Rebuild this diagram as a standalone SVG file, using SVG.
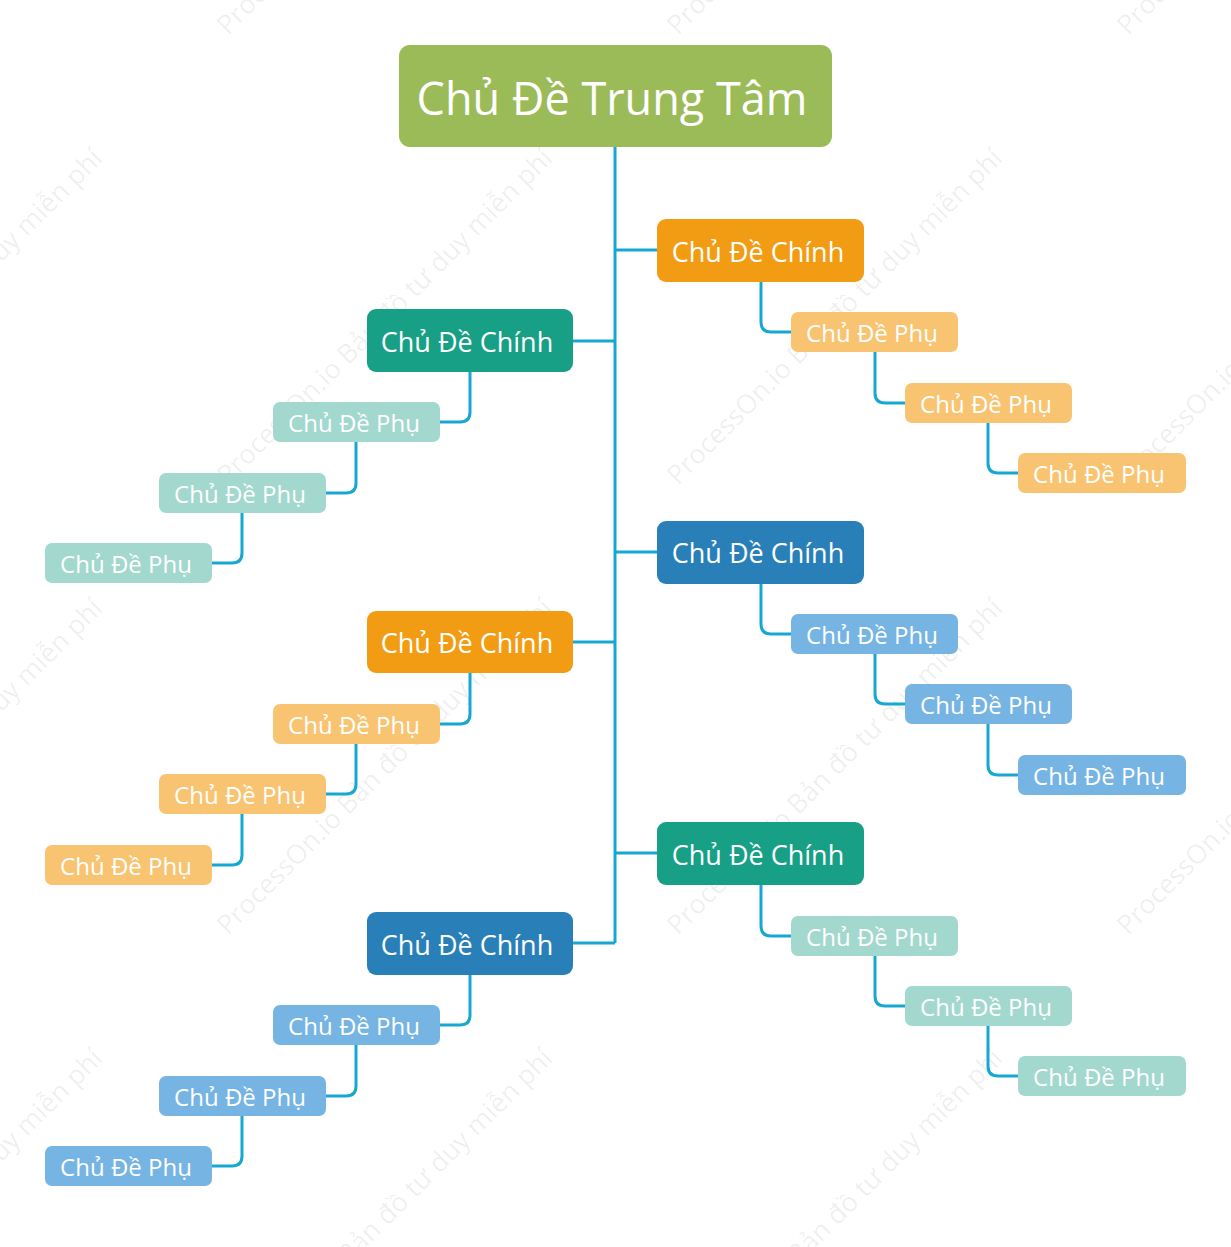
<svg xmlns="http://www.w3.org/2000/svg" width="1231" height="1247" viewBox="0 0 1231 1247">
<style>
.wm{font-family:"Open Sans","Noto Sans",sans-serif;font-size:26.7px;fill:#000;fill-opacity:0.07}
.t{font-family:"Open Sans","Noto Sans",sans-serif;fill:#fff;text-anchor:middle;dominant-baseline:central}
.main{font-size:27px}
.sub{font-size:24px}
.c{fill:none;stroke:#17A8D1;stroke-width:3}
.orange{fill:#F29C14}.teal{fill:#17A085}.blue{fill:#2980B9}
.lorange{fill:#F8C471}.lteal{fill:#A3D8CE}.lblue{fill:#76B4E3}
</style>
<rect width="1231" height="1247" fill="#fff"/>
<g id="watermarks">
<text class="wm" transform="translate(228,36) rotate(-45)">ProcessOn.io Bản đồ tư duy miễn phí</text>
<text class="wm" transform="translate(678,36) rotate(-45)">ProcessOn.io Bản đồ tư duy miễn phí</text>
<text class="wm" transform="translate(1128,36) rotate(-45)">ProcessOn.io Bản đồ tư duy miễn phí</text>
<text class="wm" transform="translate(-222,486) rotate(-45)">ProcessOn.io Bản đồ tư duy miễn phí</text>
<text class="wm" transform="translate(228,486) rotate(-45)">ProcessOn.io Bản đồ tư duy miễn phí</text>
<text class="wm" transform="translate(678,486) rotate(-45)">ProcessOn.io Bản đồ tư duy miễn phí</text>
<text class="wm" transform="translate(1128,486) rotate(-45)">ProcessOn.io Bản đồ tư duy miễn phí</text>
<text class="wm" transform="translate(-222,936) rotate(-45)">ProcessOn.io Bản đồ tư duy miễn phí</text>
<text class="wm" transform="translate(228,936) rotate(-45)">ProcessOn.io Bản đồ tư duy miễn phí</text>
<text class="wm" transform="translate(678,936) rotate(-45)">ProcessOn.io Bản đồ tư duy miễn phí</text>
<text class="wm" transform="translate(1128,936) rotate(-45)">ProcessOn.io Bản đồ tư duy miễn phí</text>
<text class="wm" transform="translate(-222,1386) rotate(-45)">ProcessOn.io Bản đồ tư duy miễn phí</text>
<text class="wm" transform="translate(228,1386) rotate(-45)">ProcessOn.io Bản đồ tư duy miễn phí</text>
<text class="wm" transform="translate(678,1386) rotate(-45)">ProcessOn.io Bản đồ tư duy miễn phí</text>
</g>
<g id="connectors">
<path class="c" d="M615,147 V943"/>
<path class="c" d="M615,250 H657 M615,552 H657 M615,853 H657"/>
<path class="c" d="M573,341 H615 M573,642 H615 M573,943 H615"/>
<path class="c" d="M761,282 V322 Q761,332 771,332 H791 M875,352 V393 Q875,403 885,403 H905 M988,423 V463 Q988,473 998,473 H1018"/>
<path class="c" d="M761,584 V624 Q761,634 771,634 H791 M875,654 V694 Q875,704 885,704 H905 M988,724 V765 Q988,775 998,775 H1018"/>
<path class="c" d="M761,885 V926 Q761,936 771,936 H791 M875,956 V996 Q875,1006 885,1006 H905 M988,1026 V1066 Q988,1076 998,1076 H1018"/>
<path class="c" d="M470,372 V412 Q470,422 460,422 H440 M356,442 V483 Q356,493 346,493 H326 M242,513 V553 Q242,563 232,563 H212"/>
<path class="c" d="M470,673 V714 Q470,724 460,724 H440 M356,744 V784 Q356,794 346,794 H326 M242,814 V855 Q242,865 232,865 H212"/>
<path class="c" d="M470,975 V1015 Q470,1025 460,1025 H440 M356,1045 V1086 Q356,1096 346,1096 H326 M242,1116 V1156 Q242,1166 232,1166 H212"/>
</g>
<g id="center"><rect x="399" y="45" width="433" height="102" rx="11" fill="#9BBB59"/><text class="t" x="612" y="97" style="font-size:45px">Chủ Đề Trung Tâm</text></g>

<g id="r1"><rect class="orange" x="657" y="219" width="207" height="63" rx="9"/><text class="t main" x="758" y="251">Chủ Đề Chính</text></g>
<g id="r1s1"><rect class="lorange" x="791" y="312" width="167" height="40" rx="7"/><text class="t sub" x="872" y="332">Chủ Đề Phụ</text></g>
<g id="r1s2"><rect class="lorange" x="905" y="383" width="167" height="40" rx="7"/><text class="t sub" x="986" y="403">Chủ Đề Phụ</text></g>
<g id="r1s3"><rect class="lorange" x="1018" y="453" width="168" height="40" rx="7"/><text class="t sub" x="1099" y="473">Chủ Đề Phụ</text></g>

<g id="l1"><rect class="teal" x="367" y="309" width="206" height="63" rx="9"/><text class="t main" x="467" y="341">Chủ Đề Chính</text></g>
<g id="l1s1"><rect class="lteal" x="273" y="402" width="167" height="40" rx="7"/><text class="t sub" x="354" y="422">Chủ Đề Phụ</text></g>
<g id="l1s2"><rect class="lteal" x="159" y="473" width="167" height="40" rx="7"/><text class="t sub" x="240" y="493">Chủ Đề Phụ</text></g>
<g id="l1s3"><rect class="lteal" x="45" y="543" width="167" height="40" rx="7"/><text class="t sub" x="126" y="563">Chủ Đề Phụ</text></g>

<g id="r2"><rect class="blue" x="657" y="521" width="207" height="63" rx="9"/><text class="t main" x="758" y="552">Chủ Đề Chính</text></g>
<g id="r2s1"><rect class="lblue" x="791" y="614" width="167" height="40" rx="7"/><text class="t sub" x="872" y="634">Chủ Đề Phụ</text></g>
<g id="r2s2"><rect class="lblue" x="905" y="684" width="167" height="40" rx="7"/><text class="t sub" x="986" y="704">Chủ Đề Phụ</text></g>
<g id="r2s3"><rect class="lblue" x="1018" y="755" width="168" height="40" rx="7"/><text class="t sub" x="1099" y="775">Chủ Đề Phụ</text></g>

<g id="l2"><rect class="orange" x="367" y="611" width="206" height="62" rx="9"/><text class="t main" x="467" y="642">Chủ Đề Chính</text></g>
<g id="l2s1"><rect class="lorange" x="273" y="704" width="167" height="40" rx="7"/><text class="t sub" x="354" y="724">Chủ Đề Phụ</text></g>
<g id="l2s2"><rect class="lorange" x="159" y="774" width="167" height="40" rx="7"/><text class="t sub" x="240" y="794">Chủ Đề Phụ</text></g>
<g id="l2s3"><rect class="lorange" x="45" y="845" width="167" height="40" rx="7"/><text class="t sub" x="126" y="865">Chủ Đề Phụ</text></g>

<g id="r3"><rect class="teal" x="657" y="822" width="207" height="63" rx="9"/><text class="t main" x="758" y="854">Chủ Đề Chính</text></g>
<g id="r3s1"><rect class="lteal" x="791" y="916" width="167" height="40" rx="7"/><text class="t sub" x="872" y="936">Chủ Đề Phụ</text></g>
<g id="r3s2"><rect class="lteal" x="905" y="986" width="167" height="40" rx="7"/><text class="t sub" x="986" y="1006">Chủ Đề Phụ</text></g>
<g id="r3s3"><rect class="lteal" x="1018" y="1056" width="168" height="40" rx="7"/><text class="t sub" x="1099" y="1076">Chủ Đề Phụ</text></g>

<g id="l3"><rect class="blue" x="367" y="912" width="206" height="63" rx="9"/><text class="t main" x="467" y="944">Chủ Đề Chính</text></g>
<g id="l3s1"><rect class="lblue" x="273" y="1005" width="167" height="40" rx="7"/><text class="t sub" x="354" y="1025">Chủ Đề Phụ</text></g>
<g id="l3s2"><rect class="lblue" x="159" y="1076" width="167" height="40" rx="7"/><text class="t sub" x="240" y="1096">Chủ Đề Phụ</text></g>
<g id="l3s3"><rect class="lblue" x="45" y="1146" width="167" height="40" rx="7"/><text class="t sub" x="126" y="1166">Chủ Đề Phụ</text></g>
</svg>
